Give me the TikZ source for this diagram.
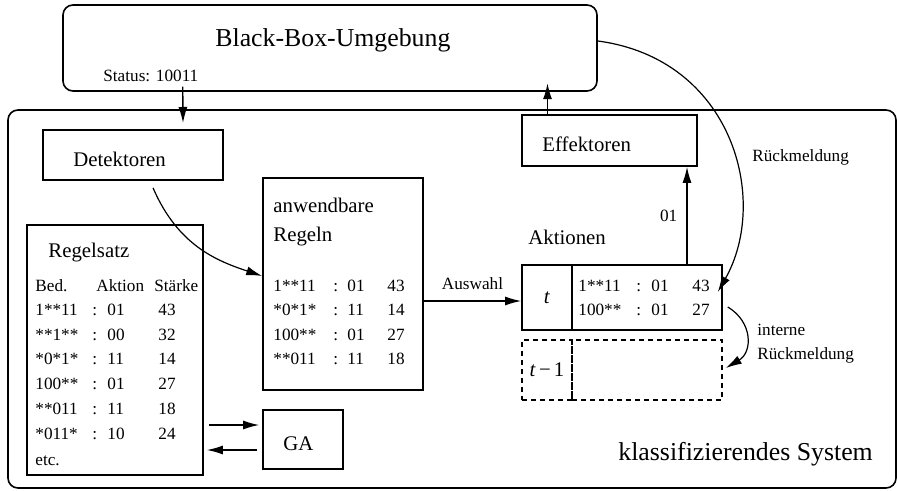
\documentclass[tikz,border=0pt]{standalone}
\usepackage{fontspec}
\setmainfont{Liberation Serif}
\usetikzlibrary{arrows.meta}
\newcommand\schriftgross{\fontsize{12.9}{15}\selectfont}
\newcommand\schriftmittel{\fontsize{10.4}{12.5}\selectfont}
\newcommand\schriftklein{\fontsize{8.6}{10.3}\selectfont}
\tikzset{box/.style={draw, line width=0.8pt, inner sep=0pt},
  rbox/.style={box, rounded corners=5pt},
  dbox/.style={box, dash pattern=on 2.5pt off 2pt},
  txt/.style={inner sep=0pt, anchor=base west, font=\schriftklein},
  titel/.style={txt, font=\schriftmittel},
  pfeil/.style={-{Latex[length=8pt,width=4.5pt]}, line width=0.7pt}}
\begin{document}
\begin{tikzpicture}[x=0.5pt, y=-0.5pt]
\useasboundingbox (0,0) rectangle (897,491);

% Kaesten
\node[rbox, minimum width=267pt, minimum height=43pt] (umgebung) at (330,48) {};
\node[rbox, minimum width=444pt, minimum height=189pt] (system) at (452,299) {};
\node[box, minimum width=90pt, minimum height=25pt] (detektoren) at (133,155) {};
\node[box, minimum width=87.5pt, minimum height=25.5pt] (effektoren) at (609.5,140.5) {};
\node[box, minimum width=80pt, minimum height=106pt] (regeln) at (343,284) {};
\node[box, minimum width=88pt, minimum height=125pt] (regelsatz) at (115,350) {};
\node[box, minimum width=40pt, minimum height=29.5pt] (ga) at (303,439.5) {};
\node[box, minimum width=25pt, minimum height=32.5pt, font=\schriftmittel] (akt-t) at (547,297.5) {\textit{t}};
\node[box, minimum width=75pt, minimum height=32.5pt] (akt-r) at (647,297.5) {};
\node[dbox, minimum width=25pt, minimum height=30pt, font=\schriftmittel] (alt-t) at (547,370) {\textit{t}\hspace{0.15em}−\hspace{0.15em}1};
\node[dbox, minimum width=75pt, minimum height=30pt] (alt-r) at (647,370) {};

% Beschriftungen
\node[txt, font=\schriftgross] (umgebung-text) at (215,47) {Black-Box-Umgebung};
\node[txt] (status) at (103,82) {Status: 10011};
\node[titel] (detektoren-text) at (73,167) {Detektoren};
\node[titel] (effektoren-text) at (542,152) {Effektoren};
\node[txt] (rueck-text) at (752,162) {Rückmeldung};
\node[titel] (regeln-text1) at (273,213) {anwendbare};
\node[titel] (regeln-text2) at (273,242) {Regeln};
\node[titel] (regelsatz-text) at (48,257) {Regelsatz};
\node[titel] (ga-text) at (283,450) {GA};
\node[titel] (aktionen-text) at (528,245) {Aktionen};
\node[txt] (intern-text1) at (757,335) {interne};
\node[txt] (intern-text2) at (757,359) {Rückmeldung};
\node[txt, font=\schriftgross] (system-text) at (618,460) {klassifizierendes System};

% Regelsatz
\node[txt] (rs-kopf1) at (35,291) {Bed.};
\node[txt] (rs-kopf2) at (96,291) {Aktion};
\node[txt] (rs-kopf3) at (154,291) {Stärke};
\foreach \bed/\akt/\st [count=\i] in {1**11/01/43, **1**/00/32, *0*1*/11/14, 100**/01/27, **011/11/18, *011*/10/24} {
  \node[txt] (rs-b\i) at (35,{290.4+24.8*\i}) {\bed};
  \node[txt] (rs-d\i) at (92,{290.4+24.8*\i}) {:};
  \node[txt] (rs-a\i) at (107,{290.4+24.8*\i}) {\akt};
  \node[txt] (rs-s\i) at (158,{290.4+24.8*\i}) {\st};
}
\node[txt] (rs-etc) at (35,465) {etc.};

% anwendbare Regeln
\foreach \bed/\akt/\st [count=\i] in {1**11/01/43, *0*1*/11/14, 100**/01/27, **011/11/18} {
  \node[txt] (ar-b\i) at (273,{266.4+24.6*\i}) {\bed};
  \node[txt] (ar-d\i) at (333,{266.4+24.6*\i}) {:};
  \node[txt] (ar-a\i) at (347,{266.4+24.6*\i}) {\akt};
  \node[txt] (ar-s\i) at (387,{266.4+24.6*\i}) {\st};
}

% Aktionen
\foreach \bed/\akt/\st [count=\i] in {1**11/01/43, 100**/01/27} {
  \node[txt] (ak-b\i) at (578,{267+24*\i}) {\bed};
  \node[txt] (ak-d\i) at (636,{267+24*\i}) {:};
  \node[txt] (ak-a\i) at (651,{267+24*\i}) {\akt};
  \node[txt] (ak-s\i) at (692,{267+24*\i}) {\st};
}

% Pfeile
\coordinate (status-ziel) at (183,123);
\draw[pfeil] ([xshift=-8pt,yshift=-2pt]status.south east) -- (status-ziel);
\draw[pfeil] ([xshift=-31pt]effektoren.north) -- +(0,-31);
\draw[pfeil] ([xshift=20pt]akt-r.north) -- ([xshift=20pt]akt-r.north |- effektoren.south)
  node[midway, left, inner sep=4.5pt, font=\schriftklein] (ausgabe) {01};
\draw[pfeil] ([yshift=-8.5pt]regeln.east) -- ([yshift=-8.5pt]regeln.east -| akt-t.west)
  node[midway, above, inner sep=5.5pt, font=\schriftklein] (auswahl) {Auswahl};
\draw[pfeil, shorten <=2.5pt, shorten >=1.5pt] ([yshift=7.25pt]ga.west -| regelsatz.east) -- ([yshift=7.25pt]ga.west);
\draw[pfeil, shorten <=2.5pt, shorten >=1.5pt] ([yshift=-5.25pt]ga.west) -- ([yshift=-5.25pt]ga.west -| regelsatz.east);
\draw[pfeil, line width=0.6pt] ([xshift=10pt,yshift=-3.5pt]detektoren.south)
  .. controls +(25,58) and +(-45,-15) .. ([yshift=4pt]regeln.west);
\draw[pfeil, line width=0.6pt] ([yshift=3.5pt]umgebung.east)
  .. controls +(135,18) and +(52,-92) .. ([xshift=-2.5pt,yshift=2.75pt]akt-r.east);
\draw[pfeil, line width=0.6pt] ([xshift=2.5pt,yshift=-4.75pt]akt-r.east)
  .. controls +(25,15) and +(27,-16) .. ([xshift=1.5pt,yshift=1pt]alt-r.east);
\end{tikzpicture}
\end{document}
